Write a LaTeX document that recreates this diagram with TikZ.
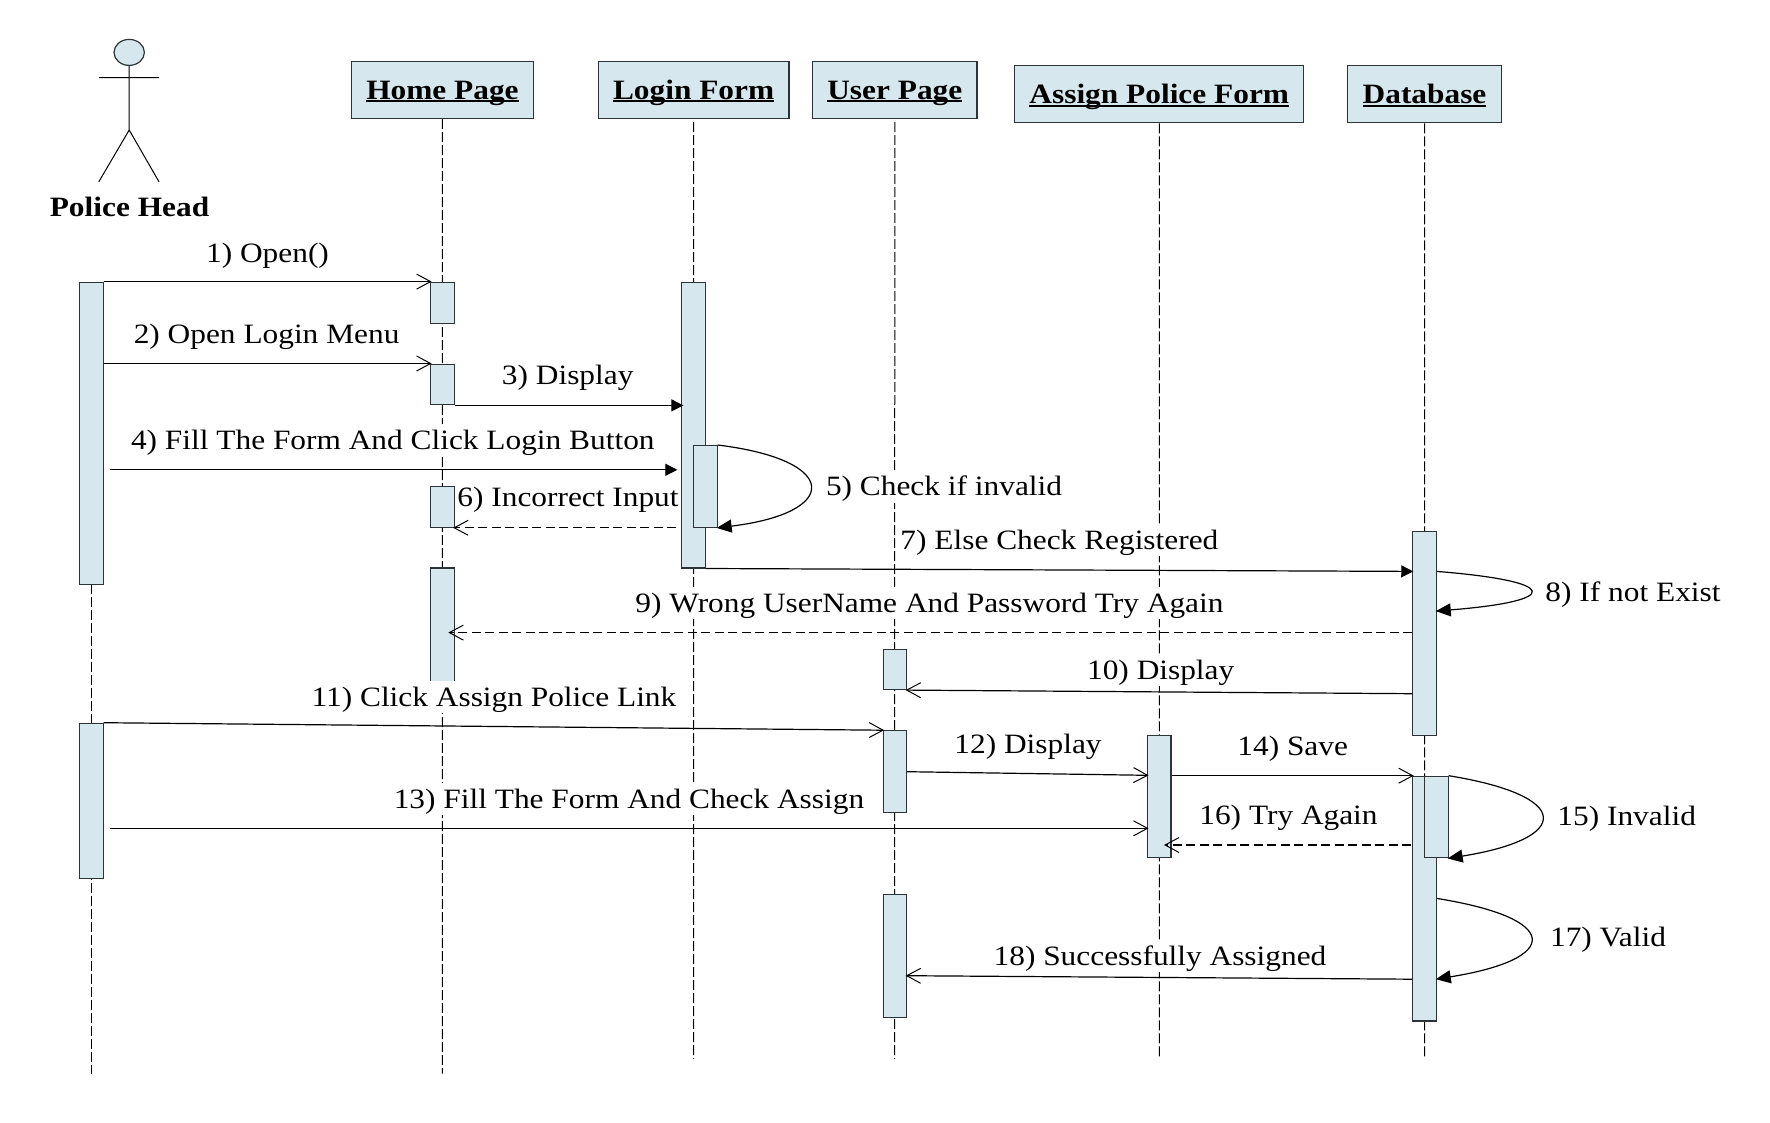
\documentclass[tikz,border=0pt]{standalone}
\usepackage{fontspec}
\setmainfont[FakeStretch=1.12]{Liberation Serif}
\usetikzlibrary{arrows.meta,shapes.geometric,calc}
\definecolor{umlfill}{RGB}{214,232,238}
\definecolor{umlline}{RGB}{45,52,55}
\tikzset{
  headbox/.style={draw=umlline,fill=umlfill,line width=1.3pt,rectangle,inner sep=0pt,text height=20pt,text depth=1.6pt,font=\fontsize{28}{32}\selectfont\bfseries},
  actbar/.style={draw=umlline,fill=umlfill,line width=1.1pt,rectangle,inner sep=0pt,minimum width=23.4pt,anchor=north},
  lifeline/.style={draw=black,line width=1pt,dash pattern=on 10pt off 3pt},
  msg/.style={draw=black,line width=1.2pt},
  openmsg/.style={msg,-{Straight Barb[length=14pt,width=15pt,line width=1pt]},shorten >=-1.5pt},
  fillmsg/.style={msg,-{Triangle[length=12pt,width=12pt]},shorten >=-1pt},
  selfmsg/.style={msg,-{Triangle[length=15pt,width=13pt]},shorten >=-1pt},
  retmsg/.style={openmsg,line width=1.1pt,dash pattern=on 9pt off 4.5pt},
  lbl/.style={fill=white,inner sep=1pt,text height=24pt,text depth=6pt,font=\fontsize{28}{32}\selectfont},
}
\newcommand{\ulname}[1]{\setbox0\hbox{#1}\rlap{\rule[-3.4pt]{\wd0}{2.2pt}}\box0 }
\newcommand{\headbox}[6]{\node[headbox,minimum width={(#4-#3)*1pt},minimum height={(#6-#5)*1pt}] (#1) at ({(#3+#4)/2},{(#5+#6)/2}) {\ulname{#2}};}
\newcommand{\actbarnode}[4]{\node[actbar,minimum height={(#4-#3)*1pt}] (#1) at (#2,#3) {};}
\begin{document}
\begin{tikzpicture}[x=1pt,y=-1pt]
\useasboundingbox (0,0) rectangle (1770,1122);
% actor
\node[ellipse,draw=umlline,fill=umlfill,line width=1.2pt,minimum width=30.4pt,minimum height=26pt,inner sep=0pt] (head) at (129.2,52.4) {};
\coordinate (neck) at (129.2,77.6);
\coordinate (armL) at (98.8,77.6);
\coordinate (armR) at (159,77.6);
\coordinate (hip) at (129.2,130);
\coordinate (legL) at (98.8,181.8);
\coordinate (legR) at (159,181.8);
\draw[msg,line width=1pt] (head.south) -- (hip) (armL) -- (armR) (legL) -- (hip) -- (legR);
\node[font=\fontsize{28}{32}\selectfont\bfseries] (actor) at (129.5,207) {Police Head};
% head boxes
\headbox{home}{Home Page}{351.6}{533.3}{61.2}{118.4}
\headbox{login}{Login Form}{598.2}{789}{61.2}{118.4}
\headbox{user}{User Page}{812.6}{977}{61.2}{118.4}
\headbox{assign}{Assign Police Form}{1014.8}{1303.7}{65.5}{122.7}
\headbox{db}{Database}{1347.8}{1501.3}{65.5}{122.7}
% lifeline ends
\coordinate (actorEnd) at (91.4,1073.7);
\coordinate (actorStart) at (91.4,583.5);
\coordinate (homeEnd) at (442.4,1073.7);
\coordinate (loginEnd) at (693.6,1058.6);
\coordinate (userEnd) at (894.6,1058.6);
\coordinate (assignEnd) at (1159.3,1058.6);
\coordinate (dbEnd) at (1424.5,1058.6);
\draw[lifeline] (actorStart) -- (actorEnd);
\draw[lifeline] (home.south) -- (homeEnd);
\draw[lifeline] ([yshift=-3pt]login.south) -- (loginEnd);
\draw[lifeline] ([yshift=-3pt]user.south) -- (userEnd);
\draw[lifeline] (assign.south) -- (assignEnd);
\draw[lifeline] (db.south) -- (dbEnd);
% activation bars
\actbarnode{polA}{91.4}{281.6}{583.5}
\actbarnode{polB}{91.4}{722.7}{877.6}
\actbarnode{homeA}{442.4}{281.6}{322.7}
\actbarnode{homeB}{442.4}{363.5}{404.3}
\actbarnode{homeC}{442.4}{485.9}{526.7}
\actbarnode{homeD}{442.4}{567.4}{690}
\actbarnode{loginA}{693.6}{281.6}{567.4}
\actbarnode{loginB}{705.4}{445}{526.7}
\actbarnode{userA}{894.9}{648.7}{689}
\actbarnode{userB}{894.9}{730.2}{812.2}
\actbarnode{userC}{894.9}{893.7}{1016.5}
\actbarnode{assignA}{1159.3}{734.5}{857.2}
\actbarnode{dbA}{1424.5}{530.6}{734.5}
\actbarnode{dbB}{1424.5}{775.7}{1020.4}
\actbarnode{dbC}{1436.4}{775.7}{857.2}
% free ends
\coordinate (m4s) at (110,469.8);
\coordinate (m13s) at (110,828.3);
\coordinate (m9s) at ([yshift=-102pt]dbA.north west);
\coordinate (m16s) at (1411,845);
% messages
\draw[openmsg] (polA.north east) -- (homeA.north west);
\draw[openmsg] (polA.east |- homeB.north west) -- (homeB.north west);
\draw[fillmsg] (homeB.south east) -- ([xshift=1pt]loginA.west |- homeB.south east);
\draw[fillmsg] (m4s) -- ([xshift=-5pt]loginA.west |- m4s);
\draw[selfmsg] (loginB.north east) .. controls +(123,15) and +(123,-15) .. (loginB.south east);
\draw[retmsg] ([xshift=-5pt]loginA.west |- homeC.south east) -- (homeC.south east);
\draw[fillmsg] (loginA.south east) -- ([yshift=-40.8pt]dbA.north west);
\draw[selfmsg] ([yshift=-40.8pt]dbA.north east) .. controls +(125,10) and +(125,-10) .. ([yshift=-80.4pt]dbA.north east);
\draw[retmsg] (m9s) -- ([xshift=7.4pt]homeD.center |- m9s);
\draw[openmsg] ([yshift=-163.1pt]dbA.north west) -- (userA.south east);
\draw[openmsg] (polB.north east) -- (userB.north west);
\draw[openmsg] ([yshift=-41.5pt]userB.north east) -- ([yshift=-40.8pt]assignA.north west);
\draw[openmsg] (m13s) -- (assignA.west |- m13s);
\draw[openmsg] ([yshift=-41.2pt]assignA.north east) -- (dbB.north west);
\draw[selfmsg] (dbC.north east) .. controls +(124,20) and +(124,-20) .. (dbC.south east);
\draw[retmsg] (m16s) -- ([xshift=6.2pt]assignA.center |- m16s);
\draw[selfmsg] ([yshift=-122.7pt]dbB.north east) .. controls +(125,20) and +(125,-20) .. ([yshift=-203.3pt]dbB.north east);
\draw[openmsg] ([yshift=-203.5pt]dbB.north west) -- ([yshift=-82pt]userC.north east);
% labels
\node[lbl] (t1) at (267.5,253) {1) Open()};
\node[lbl] (t2) at (266.6,334.5) {2) Open Login Menu};
\node[lbl] (t3) at (567.7,375) {3) Display};
\node[lbl] (t4) at (392.8,440) {4) Fill The Form And Click Login Button};
\node[lbl] (t5) at (944,486.6) {5) Check if invalid};
\node[lbl] (t6) at (568,497.3) {6) Incorrect Input};
\node[lbl] (t7) at (1059.4,540.3) {7) Else Check Registered};
\node[lbl] (t8) at (1633,592) {8) If not Exist};
\node[lbl] (t9) at (929.5,603.2) {9) Wrong UserName And Password Try Again};
\node[lbl] (t10) at (1160.7,670) {10) Display};
\node[lbl] (t11) at (494,697) {11) Click Assign Police Link};
\node[lbl] (t12) at (1028,744.5) {12) Display};
\node[lbl] (t13) at (629,799) {13) Fill The Form And Check Assign};
\node[lbl] (t14) at (1292.7,746.3) {14) Save};
\node[lbl] (t15) at (1626.7,816) {15) Invalid};
\node[lbl] (t16) at (1288.5,815) {16) Try Again};
\node[lbl] (t17) at (1608,937.7) {17) Valid};
\node[lbl] (t18) at (1160,956.4) {18) Successfully Assigned};
\end{tikzpicture}
\end{document}
